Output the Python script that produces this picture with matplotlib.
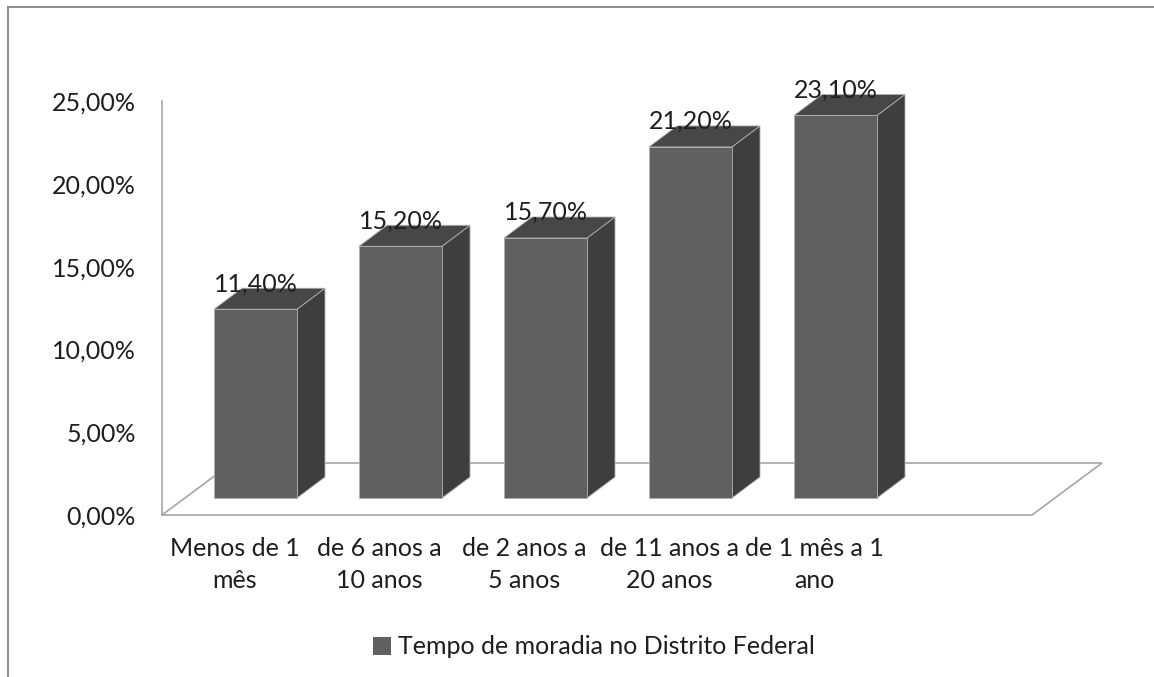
import matplotlib
matplotlib.use("Agg")
import matplotlib.pyplot as plt
from matplotlib.patches import Polygon, Patch
from matplotlib.lines import Line2D

# data
categorias = ["Menos de 1\nmês", "de 6 anos a\n10 anos", "de 2 anos a\n5 anos",
              "de 11 anos a\n20 anos", "de 1 mês a 1\nano"]
valores = [11.4, 15.2, 15.7, 21.2, 23.1]
rotulos = ["11,40%", "15,20%", "15,70%", "21,20%", "23,10%"]
serie = "Tempo de moradia no Distrito Federal"
yticks = [0, 5, 10, 15, 20, 25]
ytick_labels = ["0,00%", "5,00%", "10,00%", "15,00%", "20,00%", "25,00%"]

plt.rcParams['font.family'] = ['Lato', 'DejaVu Sans']
txt = '#1e1e1e'
fs = 18

W, H = 1154, 677
fig = plt.figure(figsize=(W / 100, H / 100), dpi=100)

# plot area in pixels (front plane of the 3D chart)
left_px, right_px, bottom_px, top_px = 162, 1032, 515, 101
ax = fig.add_axes([left_px / W, 1 - bottom_px / H,
                   (right_px - left_px) / W, (bottom_px - top_px) / H])
ax.set_xlim(-0.5, 5.5)
ax.set_ylim(0, 25)

# pseudo 3D offsets in data units
px_x = 145.0          # pixels per category
px_y = (bottom_px - top_px) / 25.0
floor_dx, floor_dy = 70 / px_x, 52 / px_y
front_dx, front_dy = 21 / px_x, 17 / px_y
side_dx, side_dy = 28 / px_x, 21 / px_y
bar_w = 83 / px_x

# floor
floor = Polygon([(-0.5, 0), (5.5, 0), (5.5 + floor_dx, floor_dy),
                 (-0.5 + floor_dx, floor_dy)], closed=True,
                facecolor='white', edgecolor='#a6a6a6', lw=1.2,
                clip_on=False, zorder=1)
ax.add_patch(floor)

# bars: front face through ax.bar, side and top as polygons
xs = list(range(len(valores)))
front_col, side_col, top_col = '#606060', '#3e3e3e', '#474747'
edge = '#b0b0b0'
ax.bar([x + front_dx for x in xs], valores, width=bar_w, bottom=front_dy,
       color=front_col, edgecolor=edge, linewidth=0.6, zorder=3, clip_on=False)
for x, v in zip(xs, valores):
    l = x + front_dx - bar_w / 2
    r = x + front_dx + bar_w / 2
    b = front_dy
    t = front_dy + v
    side = Polygon([(r, b), (r + side_dx, b + side_dy), (r + side_dx, t + side_dy), (r, t)],
                   closed=True, facecolor=side_col, edgecolor=edge, lw=0.6,
                   clip_on=False, zorder=2.5)
    top = Polygon([(l, t), (l + side_dx, t + side_dy), (r + side_dx, t + side_dy), (r, t)],
                  closed=True, facecolor=top_col, edgecolor=edge, lw=0.6,
                  clip_on=False, zorder=2.5)
    ax.add_patch(side)
    ax.add_patch(top)

# data labels
for x, v, lab in zip(xs, valores, rotulos):
    ax.annotate(lab, xy=(x + front_dx, front_dy + v), xytext=(0, 13),
                textcoords='offset points', ha='center', va='baseline',
                fontsize=fs, color=txt, zorder=5, annotation_clip=False)

# axes styling
for s in ['top', 'right', 'bottom']:
    ax.spines[s].set_visible(False)
ax.spines['left'].set_color('#a6a6a6')
ax.spines['left'].set_linewidth(1.2)
ax.set_yticks(yticks)
ax.set_yticklabels(ytick_labels)
ax.set_xticks(xs)
ax.set_xticklabels(categorias, linespacing=1.45)
for lbl in ax.get_xticklabels():
    lbl.set_multialignment('center')
ax.tick_params(axis='y', length=0, pad=19, labelsize=fs, labelcolor=txt)
ax.tick_params(axis='x', length=0, pad=16, labelsize=fs, labelcolor=txt)
ax.set_facecolor('none')

# legend
handle = Patch(facecolor=front_col, edgecolor='none')
fig.legend([handle], [serie], loc='center', bbox_to_anchor=(594 / W, 1 - 647 / H),
           frameon=False, fontsize=fs, labelcolor=txt, handlelength=0.7,
           handleheight=0.7, handletextpad=0.3)

# outer chart border (only top and left edges visible)
fig.add_artist(Line2D([8 / W, 8 / W], [0, 1 - 7 / H], transform=fig.transFigure,
                      color='#858585', lw=1.3))
fig.add_artist(Line2D([8 / W, 1], [1 - 7 / H, 1 - 7 / H], transform=fig.transFigure,
                      color='#858585', lw=1.3))

fig.savefig("out.png", dpi=100, facecolor='white')
